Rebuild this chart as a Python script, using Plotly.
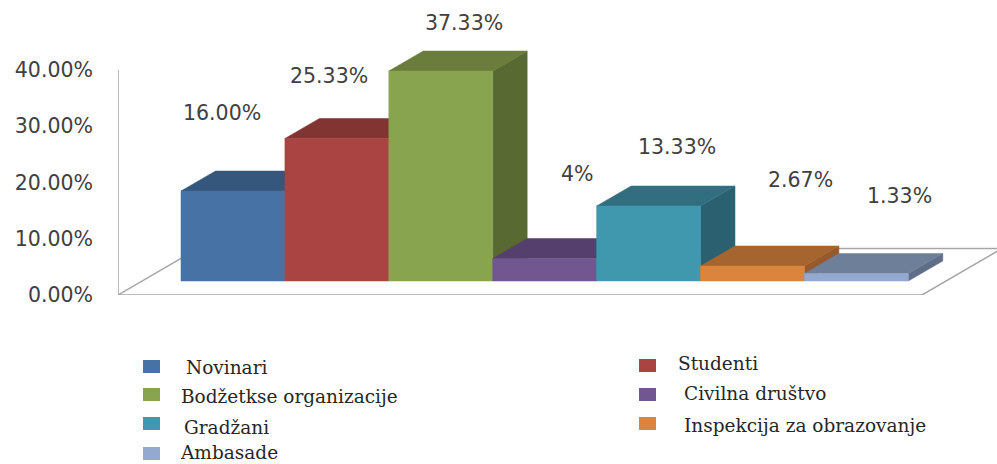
import plotly.graph_objects as go

categories = ["Novinari", "Studenti", "Bodžetkse organizacije", "Civilna društvo",
              "Gradžani", "Inspekcija za obrazovanje", "Ambasade"]
values = [16.00, 25.33, 37.33, 4.0, 13.33, 2.67, 1.33]
value_labels = ["16.00%", "25.33%", "37.33%", "4%", "13.33%", "2.67%", "1.33%"]
y_ticks = [0, 10, 20, 30, 40]
y_tick_labels = ["0.00%", "10.00%", "20.00%", "30.00%", "40.00%"]

front_colors = ["#4672A6", "#A94442", "#89A44E", "#71568F", "#4098AF", "#DB843D", "#93A9CF"]
top_colors = ["#35577E", "#823433", "#6A7D3B", "#553F6D", "#316F80", "#A6642E", "#6E7F9A"]
side_colors = ["#2C4969", "#6E2C2B", "#586A31", "#48355C", "#2A606F", "#97592A", "#5F6E86"]

W, H = 997, 464
L, R, T, B = 118, 997, 0, 295        # plot-area pixel edges
FLOOR_R = 922                        # right end of the floor's front edge
X0_PX, UNIT_PX = 181.0, 103.9        # first bar's left edge, bar width
PX_PER_PCT = 225 / 40.0              # 40% sits 225 px above 0%
x_range = [(L - X0_PX) / UNIT_PX, (R - X0_PX) / UNIT_PX]
y_range = [0, (B - T) / PX_PER_PCT]
ux = lambda px: px / UNIT_PX
uy = lambda px: px / PX_PER_PCT

BASE = uy(14)                        # bars sit forward of the floor's front edge
DX, DY = ux(34.5), uy(20)            # bar depth
FDX, FDY = ux(80), uy(46.5)          # floor depth
AXIS = "#A6A6A6"

fig = go.Figure()


def poly(xs, ys, color):
    fig.add_trace(go.Scatter(x=xs, y=ys, mode="lines", fill="toself", fillcolor=color,
                             line=dict(color=color, width=0.5), cliponaxis=False,
                             hoverinfo="skip", showlegend=False))


def line(xs, ys):
    fig.add_trace(go.Scatter(x=xs, y=ys, mode="lines", line=dict(color=AXIS, width=1.5),
                             cliponaxis=False, hoverinfo="skip", showlegend=False))


x_left = x_range[0]
x_right = (FLOOR_R - X0_PX) / UNIT_PX
line([x_left, x_left], [0, y_ticks[-1]])
line([x_left, x_right], [0, 0])
line([x_left, x_left + FDX], [0, FDY])
line([x_right, x_right + FDX], [0, FDY])
line([x_left + FDX, x_right + FDX], [FDY, FDY])

for i, v in enumerate(values):
    x0, x1 = i, i + 1
    y0, y1 = BASE, BASE + v
    poly([x1, x1 + DX, x1 + DX, x1, x1], [y0, y0 + DY, y1 + DY, y1, y0], side_colors[i])
    poly([x0, x1, x1 + DX, x0 + DX, x0], [y1, y1, y1 + DY, y1 + DY, y1], top_colors[i])
    poly([x0, x1, x1, x0, x0], [y0, y0, y1, y1, y0], front_colors[i])


def pap_x(px):
    return (px - L) / (R - L)


def pap_y(py):
    return (B - py) / (B - T)


label_pos = [(222, 113), (329, 76), (464, 23), (577, 174), (677, 147), (800, 180), (899, 196)]
annotations = []
for text, (px, py) in zip(value_labels, label_pos):
    annotations.append(dict(text=text, x=pap_x(px), y=pap_y(py), xref="paper", yref="paper",
                            showarrow=False, xanchor="center", yanchor="middle",
                            font=dict(family="DejaVu Sans", size=20.5, color="#404040")))

legend_rows = [(143, 360, 186, 367), (639, 359, 678, 363), (143, 388, 181, 396), (639, 388, 684, 393),
               (143, 417, 184, 427), (639, 417, 684, 425), (143, 447, 180, 452)]
shapes = []
for name, color, (sx, sy, tx, ty) in zip(categories, front_colors, legend_rows):
    shapes.append(dict(type="rect", xref="paper", yref="paper", line=dict(width=0), fillcolor=color,
                       x0=pap_x(sx), x1=pap_x(sx + 17), y0=pap_y(sy), y1=pap_y(sy + 13)))
    annotations.append(dict(text=name, x=pap_x(tx), y=pap_y(ty), xref="paper", yref="paper",
                            showarrow=False, xanchor="left", yanchor="middle", xshift=-2,
                            font=dict(family="DejaVu Serif", size=18.5, color="#262626")))

fig.update_layout(
    width=W, height=H, autosize=False,
    margin=dict(l=L, r=W - R, t=T, b=H - B, pad=0),
    paper_bgcolor="white", plot_bgcolor="rgba(0,0,0,0)",
    showlegend=False, annotations=annotations, shapes=shapes,
    xaxis=dict(range=x_range, showgrid=False, zeroline=False, showticklabels=False, ticks="",
               showline=False),
    yaxis=dict(range=y_range, tickvals=y_ticks, ticktext=y_tick_labels, showgrid=False,
               zeroline=False, ticks="", showline=False, ticklabelstandoff=24,
               tickfont=dict(family="DejaVu Sans", size=20.5, color="#404040")),
)

fig.write_html("out.html", config={"displayModeBar": False},
               post_script="document.body.style.margin='0';")
